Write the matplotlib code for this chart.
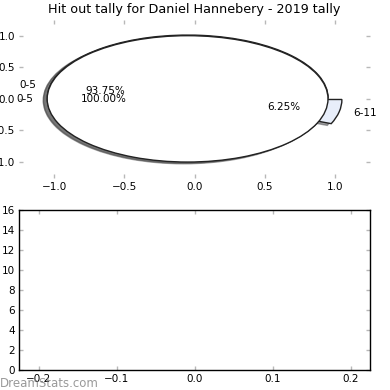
import numpy as np
import matplotlib
matplotlib.use("Agg")
import matplotlib.pyplot as plt

# hit out tally data
season_labels = ["0-5", "6-11"]
season_counts = [15, 1]
season_colors = ["white", "#e8eefa"]

overall_labels = ["0-5"]
overall_counts = [1]
overall_colors = ["white"]

pie_ticks = [-1.0, -0.5, 0.0, 0.5, 1.0]
bar_xticks = [-0.2, -0.1, 0.0, 0.1, 0.2]
bar_yticks = list(range(0, 17, 2))

plt.rcParams['font.size'] = 7.5

fig = plt.figure(figsize=(3.9, 3.9), dpi=100)
ax1 = fig.add_axes([0.049, 0.544, 0.90, 0.405])
ax2 = fig.add_axes([0.049, 0.051, 0.90, 0.410])

wedge_style = dict(edgecolor="#222222", linewidth=1)

ax1.pie(season_counts, labels=season_labels, colors=season_colors,
        explode=[0.05] * len(season_counts), autopct='%1.2f%%',
        wedgeprops=wedge_style, shadow=True, frame=True)
ax1.pie(overall_counts, labels=overall_labels, colors=overall_colors,
        explode=[0.05] * len(overall_counts), autopct='%1.2f%%',
        wedgeprops=wedge_style, shadow=True, frame=True)
ax1.set_aspect('auto')
ax1.set_xlim(-1.25, 1.25)
ax1.set_ylim(-1.25, 1.25)
ax1.set_xticks(pie_ticks)
ax1.set_yticks(pie_ticks)
for s in ax1.spines.values():
    s.set_visible(False)
ax1.set_title("Hit out tally for Daniel Hannebery - 2019 tally", fontsize=9.2, pad=5)

# empty lower panel
ax2.set_xlim(-0.225, 0.225)
ax2.set_ylim(0, 16)
ax2.set_xticks(bar_xticks)
ax2.set_yticks(bar_yticks)
for s in ax2.spines.values():
    s.set_color("black")
    s.set_linewidth(1)

for ax in (ax1, ax2):
    ax.tick_params(direction='in', length=3, width=1, color='#b8b8b8',
                   top=True, right=True, labelsize=7.5, pad=3)

fig.text(0.0, 0.008, "DreamStats.com", color="#808080", alpha=0.8, fontsize=8.5)

fig.savefig("out.png", dpi=100)
